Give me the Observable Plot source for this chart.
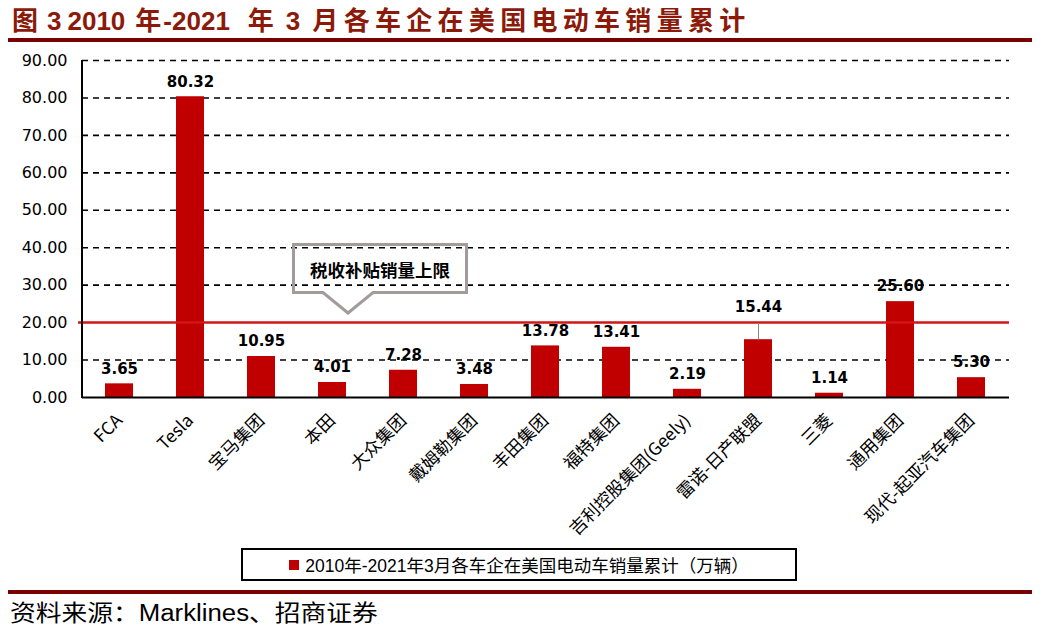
<!DOCTYPE html>
<html>
<head>
<meta charset="utf-8">
<script src="https://cdn.jsdelivr.net/npm/d3@7"></script>
<script src="https://cdn.jsdelivr.net/npm/@observablehq/plot@0.6"></script>
<style>
  html, body { margin: 0; padding: 0; background: #fff; }
  #wrap { position: relative; width: 1055px; height: 637px; overflow: hidden; background: #fff; }
  #title { position: absolute; left: 12px; top: 2px; line-height: 34px; color: #8B1A0A; font-weight: bold; white-space: nowrap; font-size: 26px; font-family: "Liberation Sans", sans-serif; }
  #title .n { font-family: "Liberation Sans", sans-serif; }
  #title .cj { font-family: "Noto Sans CJK SC", sans-serif; }
  #title .cjs { font-family: "Noto Sans CJK SC", sans-serif; letter-spacing: 5.3px; }
  .hr { position: absolute; left: 8px; width: 1024px; background: #7a0000; }
  #chart { position: absolute; left: 0; top: 42px; }
  #legend { position: absolute; left: 241px; top: 548px; width: 552px; height: 29px; border: 2px solid #000; display: flex; align-items: center; justify-content: center; font: 17.5px "Liberation Sans", "Noto Sans CJK SC", sans-serif; color: #000; }
  #legend .sw { display: inline-block; width: 10px; height: 10px; background: #C00000; margin-right: 6px; }
  #source { position: absolute; left: 10px; top: 594px; font: 23px "Noto Sans CJK SC", sans-serif; color: #000; white-space: nowrap; transform: scaleX(1.12); transform-origin: left top; }
  #source .lat { font-family: "Liberation Sans", sans-serif; }
  #callout { position: absolute; left: 0; top: 0; pointer-events: none; }
</style>
</head>
<body>
<div id="wrap">
  <div id="title"><span class="cj">图</span><span class="n" style="margin-left:9px">3</span><span class="n" style="margin-left:6px">2010</span><span class="cj" style="margin-left:10px">年</span><span class="n" style="margin-left:2px">-2021</span><span class="cj" style="margin-left:18px">年</span><span class="n" style="margin-left:12px">3</span><span class="cjs" style="margin-left:12px">月各车企在美国电动车销量累计</span></div>
  <div class="hr" style="top:38px;height:4px;"></div>
  <div id="chart"></div>
  <svg id="callout" width="1055" height="637">
    <path d="M293.5,244.5 H466.5 V292.5 H373 L348,313 L323,292.5 H293.5 Z" fill="none" stroke="#a39b9b" stroke-width="3"/>
    <text x="380" y="269" text-anchor="middle" dominant-baseline="central" font-family="Noto Sans CJK SC" font-weight="bold" font-size="17.5" fill="#000">税收补贴销量上限</text>
  </svg>
  <div id="legend"><span class="sw"></span>2010年-2021年3月各车企在美国电动车销量累计（万辆）</div>
  <div class="hr" style="top:590px;height:4px;"></div>
  <div id="source">资料来源：<span class="lat">Marklines</span>、招商证券</div>
</div>
<script>
const companies = ["FCA", "Tesla", "宝马集团", "本田", "大众集团", "戴姆勒集团", "丰田集团", "福特集团", "吉利控股集团(Geely)", "雷诺-日产联盟", "三菱", "通用集团", "现代-起亚汽车集团"];
const sales = [3.65, 80.32, 10.95, 4.01, 7.28, 3.48, 13.78, 13.41, 2.19, 15.44, 1.14, 25.60, 5.30];
const yTicks = [0, 10, 20, 30, 40, 50, 60, 70, 80, 90];
const subsidyCap = 20;
const leaderCompany = "雷诺-日产联盟";

const data = companies.map((c, i) => ({company: c, value: sales[i]}));
const normal = data.filter(d => d.company !== leaderCompany);
const special = data.filter(d => d.company === leaderCompany);

const plot = Plot.plot({
  width: 1055,
  height: 498,
  marginLeft: 82,
  marginRight: 46,
  marginTop: 18,
  marginBottom: 143,
  style: {background: "transparent", color: "#000"},
  x: {domain: companies, paddingInner: 0.6, paddingOuter: 0.3, label: null},
  y: {domain: [0, 90], label: null},
  marks: [
    Plot.ruleY(yTicks.filter(t => t > 0 && t !== subsidyCap), {stroke: "#000", strokeWidth: 1.6, strokeDasharray: "6,5"}),
    Plot.barY(data, {x: "company", y: "value", fill: "#C00000"}),
    Plot.ruleY([subsidyCap], {stroke: "#d41515", strokeWidth: 2.5, insetLeft: -4}),
    Plot.ruleY([0], {stroke: "#000", strokeWidth: 2}),
    Plot.axisY({ticks: yTicks, tickFormat: d => d.toFixed(2), tickSize: 0, tickPadding: 15, fontSize: 16, fontFamily: "DejaVu Sans, sans-serif", label: null}),
    Plot.axisX({tickRotate: -45, tickSize: 0, tickPadding: 20, fontSize: 17.5, fontFamily: "Noto Sans CJK SC, sans-serif", label: null}),
    Plot.text(normal, {x: "company", y: "value", text: d => d.value.toFixed(2), dy: -15, fontSize: 15, fontWeight: "bold", fontFamily: "DejaVu Sans, sans-serif", fill: "#000"}),
    Plot.text(special, {x: "company", y: "value", text: d => d.value.toFixed(2), dy: -32, fontSize: 15, fontWeight: "bold", fontFamily: "DejaVu Sans, sans-serif", fill: "#000"}),
    Plot.ruleX(special, {x: "company", y1: "value", y2: "value", insetTop: -16, stroke: "#888", strokeWidth: 1})
  ]
});
document.getElementById("chart").appendChild(plot);

// vertical y-axis line drawn via scale positions
const svg = d3.select(plot);
const xs = plot.scale("x"), ys = plot.scale("y");
svg.append("line")
  .attr("x1", xs.range[0]).attr("x2", xs.range[0])
  .attr("y1", ys.apply(90)).attr("y2", ys.apply(0) + 1)
  .attr("stroke", "#000").attr("stroke-width", 2);
</script>
</body>
</html>
